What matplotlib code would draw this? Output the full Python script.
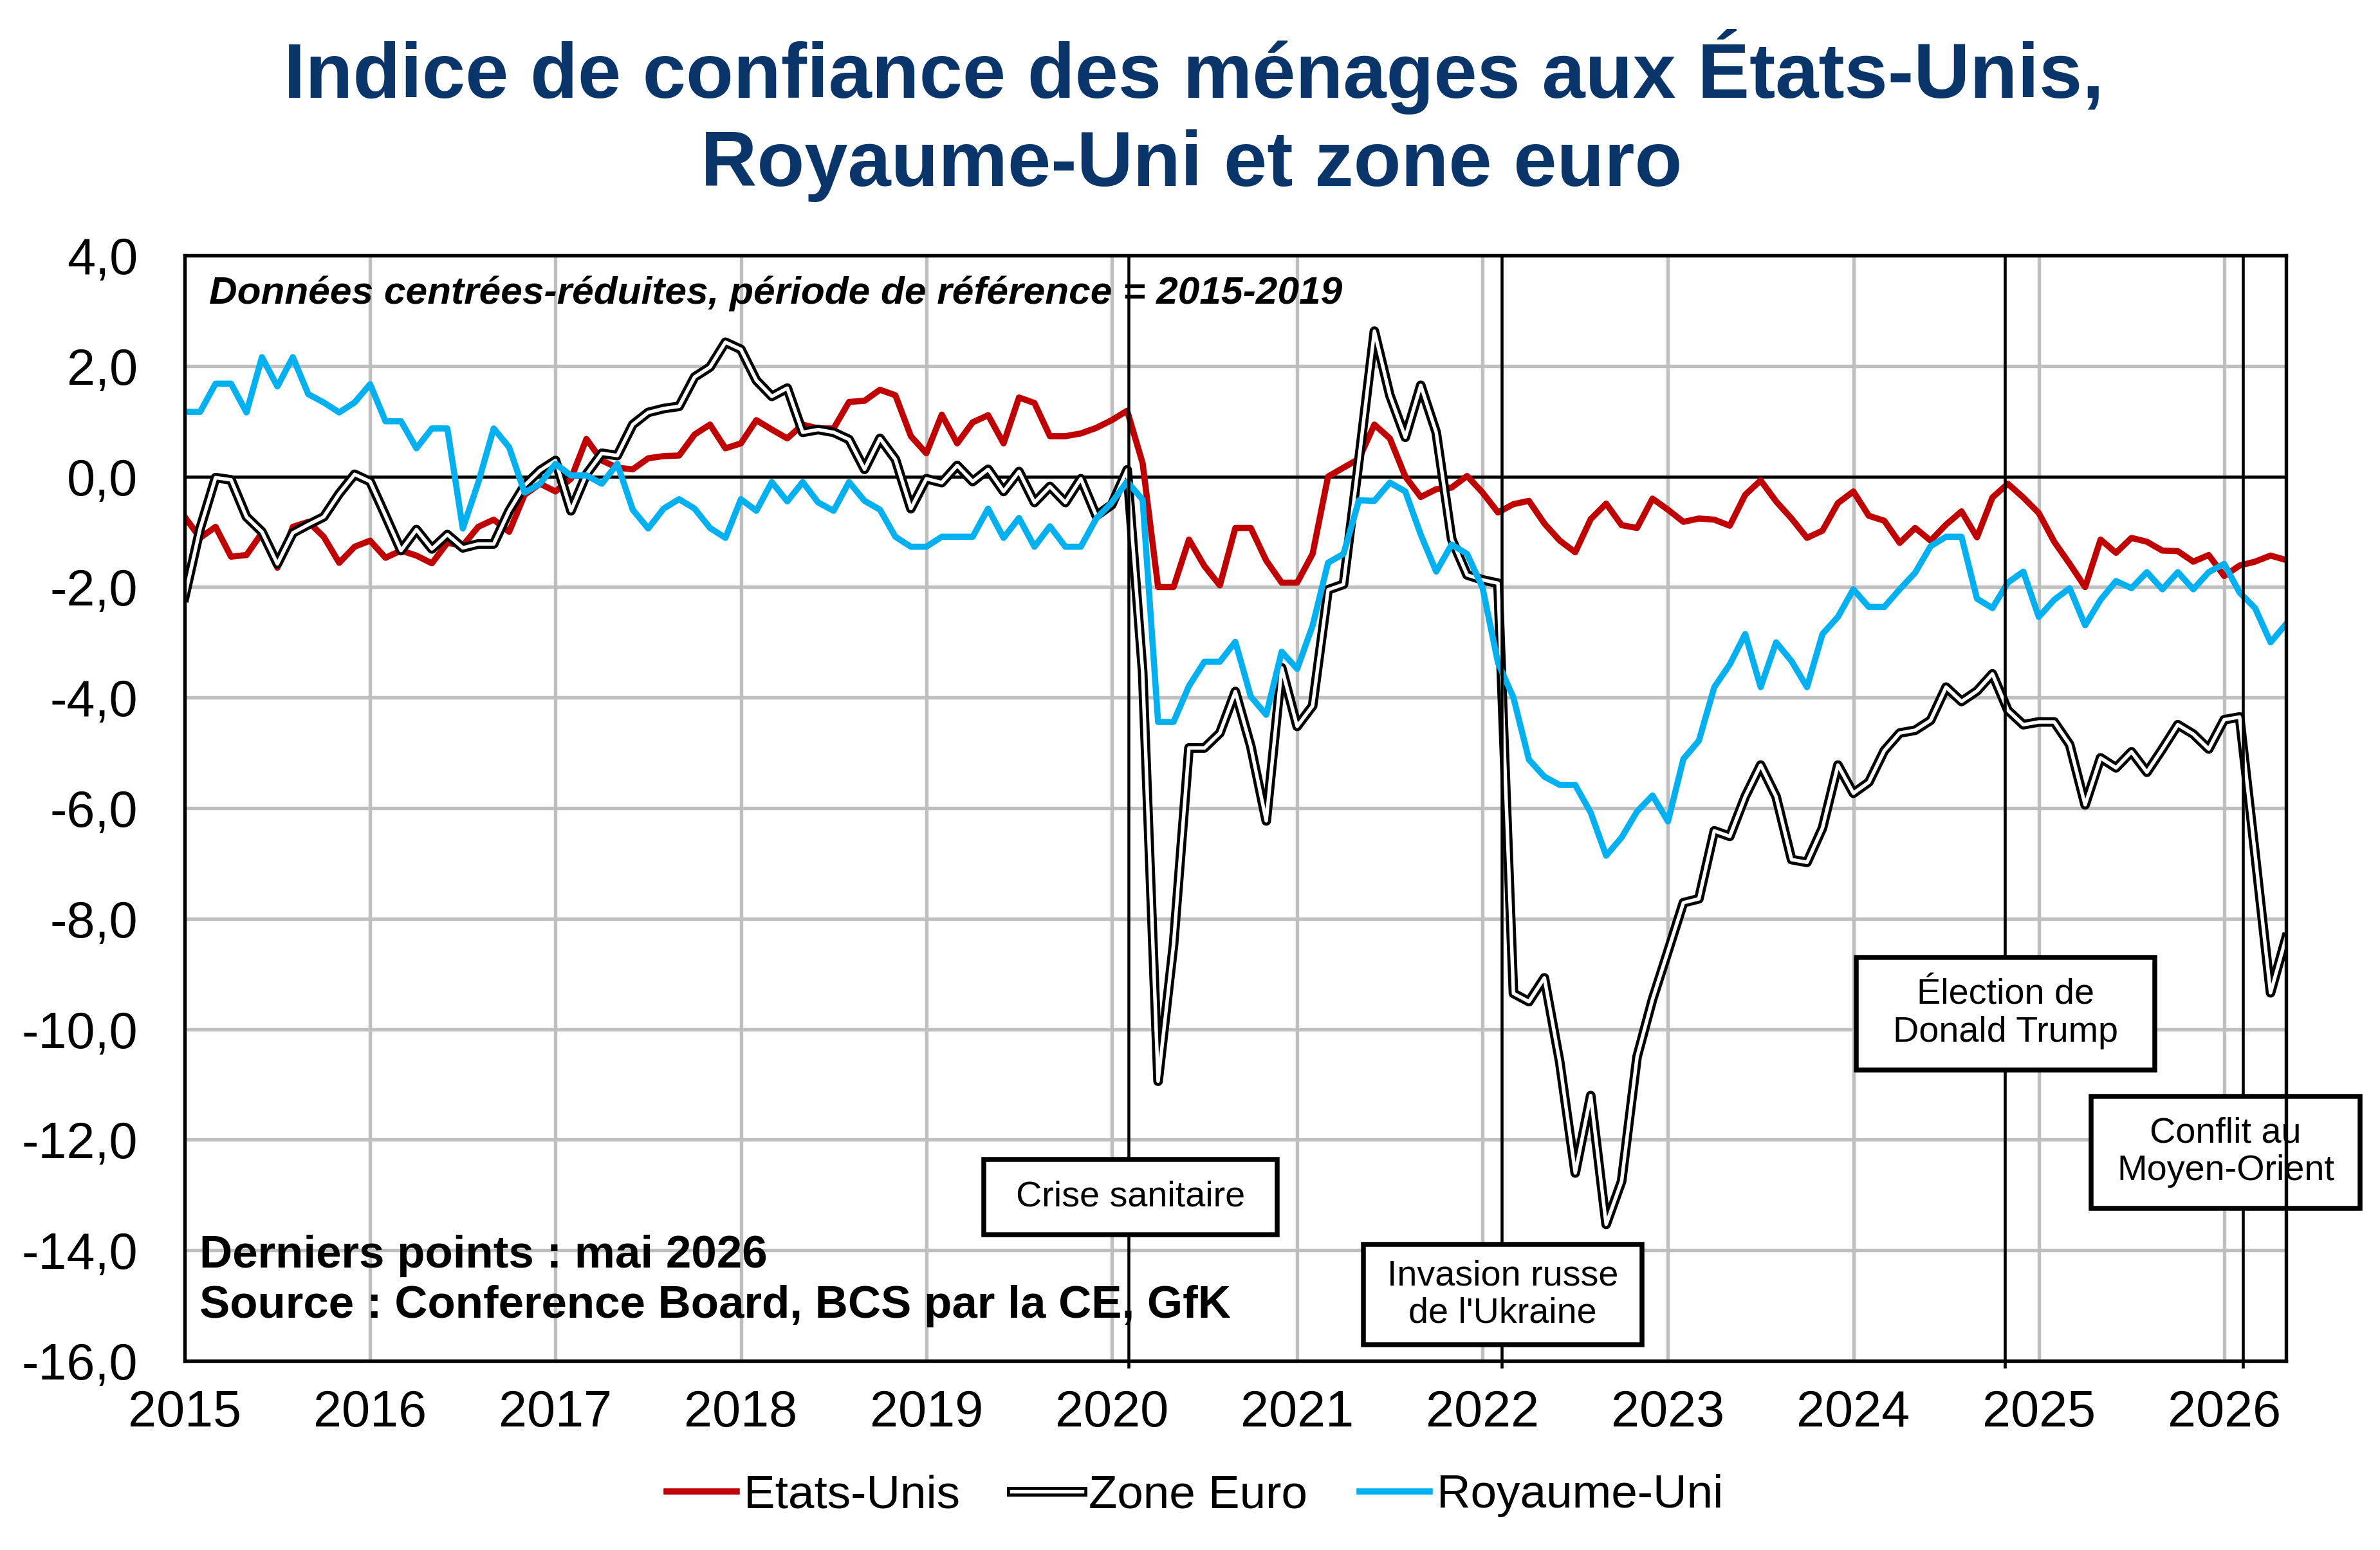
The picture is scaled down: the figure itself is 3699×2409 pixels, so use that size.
import matplotlib
matplotlib.use("Agg")
import matplotlib.pyplot as plt
from matplotlib.lines import Line2D
from matplotlib.patches import Rectangle
from matplotlib.legend_handler import HandlerTuple

plt.rcParams['font.family'] = ['Liberation Sans', 'DejaVu Sans']

# monthly points, janvier 2015 -> mai 2026 (index 0..136)
years = [str(y) for y in range(2015, 2027)]

etats_unis = [
    -0.73, -1.11, -0.91, -1.45, -1.42, -1.02, -1.65, -0.91, -0.82, -1.09, -1.56, -1.27,
    -1.16, -1.47, -1.34, -1.43, -1.57, -1.20, -1.25, -0.91, -0.78, -1.00, -0.33, -0.13,
    -0.27, -0.04, 0.68, 0.29, 0.16, 0.13, 0.33, 0.37, 0.38, 0.76, 0.94, 0.51,
    0.60, 1.02, 0.85, 0.69, 0.94, 0.87, 0.87, 1.35, 1.37, 1.57, 1.47, 0.73,
    0.42, 1.12, 0.60, 0.98, 1.11, 0.60, 1.43, 1.33, 0.73, 0.73, 0.78, 0.88,
    1.02, 1.19, 0.24, -2.00, -2.00, -1.14, -1.62, -1.97, -0.93, -0.93, -1.52, -1.92,
    -1.92, -1.40, 0.00, 0.16, 0.32, 0.94, 0.69, 0.00, -0.37, -0.23, -0.20, 0.01,
    -0.29, -0.65, -0.50, -0.44, -0.85, -1.16, -1.37, -0.77, -0.49, -0.88, -0.93, -0.40,
    -0.60, -0.82, -0.76, -0.78, -0.89, -0.33, -0.07, -0.45, -0.76, -1.11, -0.98, -0.48,
    -0.27, -0.71, -0.80, -1.20, -0.93, -1.16, -0.87, -0.63, -1.10, -0.38, -0.13, -0.38,
    -0.66, -1.18, -1.58, -2.00, -1.14, -1.38, -1.11, -1.18, -1.34, -1.35, -1.54, -1.42,
    -1.80, -1.61, -1.54, -1.43, -1.51,
]

zone_euro = [
    -2.18, -0.94, -0.02, -0.06, -0.73, -1.00, -1.58, -1.02, -0.87, -0.73, -0.31, 0.04,
    -0.09, -0.71, -1.34, -0.96, -1.31, -1.05, -1.29, -1.22, -1.22, -0.62, -0.16, 0.11,
    0.29, -0.62, 0.04, 0.42, 0.38, 0.94, 1.16, 1.23, 1.27, 1.80, 1.98, 2.43,
    2.30, 1.74, 1.45, 1.60, 0.80, 0.85, 0.80, 0.67, 0.13, 0.69, 0.31, -0.58,
    -0.04, -0.11, 0.20, -0.09, 0.13, -0.27, 0.09, -0.47, -0.18, -0.47, -0.04, -0.71,
    -0.51, 0.12, -3.53, -10.94, -8.47, -4.91, -4.91, -4.64, -3.89, -4.88, -6.23, -3.46,
    -4.52, -4.15, -2.05, -1.95, 0.30, 2.63, 1.47, 0.71, 1.65, 0.80, -1.13, -1.78,
    -1.87, -1.93, -9.35, -9.50, -9.07, -10.60, -12.60, -11.20, -13.53, -12.75, -10.50, -9.46,
    -8.59, -7.71, -7.64, -6.41, -6.51, -5.79, -5.22, -5.79, -6.93, -6.98, -6.36, -5.22,
    -5.73, -5.53, -4.96, -4.64, -4.59, -4.41, -3.81, -4.07, -3.88, -3.57, -4.23, -4.49,
    -4.44, -4.44, -4.85, -5.94, -5.09, -5.27, -4.98, -5.35, -4.93, -4.49, -4.66, -4.93,
    -4.40, -4.35, -6.83, -9.34, -8.35,
]

royaume_uni = [
    1.17, 1.17, 1.68, 1.68, 1.16, 2.16, 1.63, 2.16, 1.49, 1.34, 1.16, 1.34,
    1.67, 1.00, 1.00, 0.51, 0.87, 0.87, -0.94, -0.11, 0.87, 0.53, -0.29, -0.13,
    0.23, 0.02, 0.02, -0.13, 0.23, -0.60, -0.94, -0.58, -0.41, -0.58, -0.93, -1.11,
    -0.41, -0.62, -0.10, -0.45, -0.10, -0.47, -0.62, -0.10, -0.44, -0.60, -1.09, -1.27,
    -1.27, -1.09, -1.09, -1.09, -0.58, -1.11, -0.75, -1.27, -0.90, -1.27, -1.27, -0.76,
    -0.47, -0.09, -0.42, -4.44, -4.44, -3.79, -3.35, -3.35, -2.99, -3.98, -4.31, -3.17,
    -3.48, -2.70, -1.56, -1.40, -0.43, -0.44, -0.11, -0.27, -1.05, -1.72, -1.23, -1.40,
    -2.01, -3.37, -4.00, -5.12, -5.43, -5.58, -5.58, -6.08, -6.86, -6.53, -6.06, -5.77,
    -6.24, -5.11, -4.78, -3.81, -3.40, -2.85, -3.81, -3.00, -3.34, -3.81, -2.85, -2.54,
    -2.04, -2.36, -2.36, -2.04, -1.74, -1.26, -1.09, -1.09, -2.21, -2.38, -1.92, -1.72,
    -2.54, -2.23, -2.02, -2.69, -2.23, -1.89, -2.02, -1.73, -2.04, -1.73, -2.04, -1.73,
    -1.58, -2.10, -2.38, -3.00, -2.67,
]

y_ticks = [4.0, 2.0, 0.0, -2.0, -4.0, -6.0, -8.0, -10.0, -12.0, -14.0, -16.0]
y_labels = ['4,0', '2,0', '0,0', '-2,0', '-4,0', '-6,0', '-8,0', '-10,0', '-12,0', '-14,0', '-16,0']

# events: label, month index of the vertical line
event_labels = ["Crise sanitaire", "Invasion russe\nde l'Ukraine",
                "Élection de\nDonald Trump", "Conflit au\nMoyen-Orient"]
event_months = [61.1, 85.25, 117.8, 133.2]

RED = '#C00000'
BLUE = '#00B0F0'
NAVY = '#0A356A'
GRID = '#BFBFBF'

fig = plt.figure(figsize=(12.33, 8.03), dpi=300)
ax = fig.add_axes([0.0776, 0.1220, 0.8829, 0.7132])

months = list(range(len(etats_unis)))

ax.plot(months, etats_unis, color=RED, lw=2.3, zorder=3)
ax.plot(months, zone_euro, color='black', lw=3.6, zorder=4)
ax.plot(months, zone_euro, color='white', lw=1.3, zorder=4.1)
ax.plot(months, royaume_uni, color=BLUE, lw=2.3, zorder=5)

ax.axhline(0, color='black', lw=1.1, zorder=2.5)

for m in event_months:
    ax.axvline(m, ymin=-0.005, ymax=1, color='black', lw=1.1, zorder=5.5, clip_on=False)

# annotation boxes (x0, x1, y_top, y_bottom in data units)
boxes = [
    (51.7, 70.7, -12.35, -13.72),
    (76.3, 94.3, -13.89, -15.71),
    (108.2, 127.5, -8.70, -10.74),
    (123.4, 140.8, -11.21, -13.24),
]
for label, (x0, x1, yt, yb) in zip(event_labels, boxes):
    ax.add_patch(Rectangle((x0, yb), x1 - x0, yt - yb, facecolor='white',
                           edgecolor='black', lw=1.8, zorder=6, clip_on=False))
    ax.text((x0 + x1) / 2, (yt + yb) / 2, label, ha='center', va='center',
            fontsize=13.4, linespacing=1.15, zorder=7, clip_on=False)

ax.set_xlim(0, len(etats_unis) - 1)
ax.set_ylim(-16, 4)
ax.set_xticks(range(0, 12 * len(years), 12))
ax.set_xticklabels(years, fontsize=19)
ax.set_yticks(y_ticks)
ax.set_yticklabels(y_labels, fontsize=19)
ax.tick_params(axis='x', length=0, pad=10.5)
ax.tick_params(axis='y', length=0, pad=17.5)

ax.grid(True, color=GRID, lw=1.3)
ax.set_axisbelow(True)
for s in ax.spines.values():
    s.set_color('black')
    s.set_linewidth(1.3)
    s.set_zorder(8)

ax.text(0.0116, 0.9565, "Données centrées-réduites, période de référence = 2015-2019",
        transform=ax.transAxes, fontsize=14.5, fontweight='bold', fontstyle='italic',
        va='baseline', ha='left')
ax.text(0.007, 0.0844, "Derniers points : mai 2026", transform=ax.transAxes,
        fontsize=17, fontweight='bold', va='baseline', ha='left')
ax.text(0.007, 0.0390, "Source : Conference Board, BCS par la CE, GfK", transform=ax.transAxes,
        fontsize=17, fontweight='bold', va='baseline', ha='left')

fig.text(0.5016, 0.9369, "Indice de confiance des ménages aux États-Unis,",
         ha='center', va='baseline', fontsize=29, fontweight='bold', color=NAVY)
fig.text(0.5006, 0.8800, "Royaume-Uni et zone euro",
         ha='center', va='baseline', fontsize=29, fontweight='bold', color=NAVY)

h_us = Line2D([], [], color=RED, lw=2.3)
h_ez = (Line2D([], [], color='black', lw=3.6), Line2D([], [], color='white', lw=1.3))
h_uk = Line2D([], [], color=BLUE, lw=2.3)
fig.legend([h_us, h_ez, h_uk], ['Etats-Unis', 'Zone Euro', 'Royaume-Uni'],
           loc='center', bbox_to_anchor=(0.502, 0.035), ncol=3, frameon=False,
           fontsize=17.5, handlelength=1.5, handletextpad=0.15, columnspacing=1.1,
           handler_map={tuple: HandlerTuple(ndivide=1)})

fig.savefig('out.png', dpi=300)
